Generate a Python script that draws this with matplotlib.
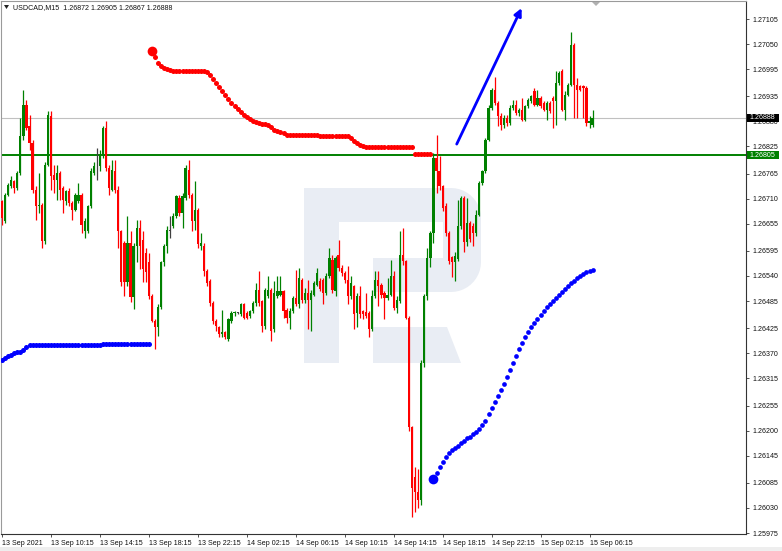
import matplotlib
matplotlib.use("Agg")
import matplotlib.pyplot as plt
from matplotlib.patches import Rectangle, Polygon
from matplotlib.transforms import Affine2D
import numpy as np

# ---------------- data ----------------
symbol_header = "USDCAD,M15  1.26872 1.26905 1.26867 1.26888"
time_labels = ["13 Sep 2021", "13 Sep 10:15", "13 Sep 14:15", "13 Sep 18:15",
               "13 Sep 22:15", "14 Sep 02:15", "14 Sep 06:15", "14 Sep 10:15",
               "14 Sep 14:15", "14 Sep 18:15", "14 Sep 22:15", "15 Sep 02:15",
               "15 Sep 06:15"]
label_step = 16

opens = [1.26705, 1.26661, 1.26719, 1.26737, 1.26748, 1.26734, 1.26767, 1.26847, 1.26916, 1.26869,
         1.26832, 1.26730, 1.26694, 1.26697, 1.26617, 1.26785, 1.26891, 1.26763, 1.26752, 1.26767,
         1.26734, 1.26705, 1.26727, 1.26701, 1.26686, 1.26705, 1.26719, 1.26639, 1.26639, 1.26694,
         1.26767, 1.26781, 1.26781, 1.26807, 1.26865, 1.26778, 1.26730, 1.26770, 1.26730, 1.26639,
         1.26613, 1.26526, 1.26613, 1.26493, 1.26606, 1.26646, 1.26620, 1.26591, 1.26570, 1.26497,
         1.26442, 1.26427, 1.26471, 1.26570, 1.26606, 1.26639, 1.26650, 1.26672, 1.26712, 1.26679,
         1.26712, 1.26774, 1.26719, 1.26661, 1.26686, 1.26606, 1.26605, 1.26551, 1.26529, 1.26481,
         1.26441, 1.26427, 1.26412, 1.26416, 1.26401, 1.26441, 1.26459, 1.26459, 1.26456, 1.26478,
         1.26459, 1.26452, 1.26463, 1.26481, 1.26510, 1.26485, 1.26430, 1.26496, 1.26510, 1.26423,
         1.26496, 1.26499, 1.26507, 1.26466, 1.26448, 1.26463, 1.26492, 1.26478, 1.26532, 1.26488,
         1.26503, 1.26488, 1.26499, 1.26521, 1.26529, 1.26532, 1.26503, 1.26540, 1.26576, 1.26507,
         1.26587, 1.26558, 1.26547, 1.26532, 1.26496, 1.26518, 1.26459, 1.26496, 1.26463, 1.26461,
         1.26459, 1.26423, 1.26496, 1.26532, 1.26521, 1.26503, 1.26492, 1.26499, 1.26540, 1.26470,
         1.26485, 1.26587, 1.26573, 1.26448, 1.26207, 1.26098, 1.26066, 1.26047, 1.26348, 1.26496,
         1.26580, 1.26635, 1.26800, 1.26770, 1.26738, 1.26694, 1.26635, 1.26581, 1.26570, 1.26577,
         1.26650, 1.26712, 1.26614, 1.26657, 1.26650, 1.26635, 1.26675, 1.26745, 1.26770, 1.26840,
         1.26909, 1.26949, 1.26920, 1.26891, 1.26873, 1.26887, 1.26876, 1.26909, 1.26917, 1.26899,
         1.26906, 1.26884, 1.26913, 1.26924, 1.26946, 1.26917, 1.26931, 1.26920, 1.26906, 1.26921,
         1.26931, 1.26924, 1.26964, 1.26990, 1.26906, 1.26939, 1.26961, 1.27048, 1.26961, 1.26957,
         1.26957, 1.26953, 1.26877, 1.26872]
highs = [1.26708, 1.26723, 1.26745, 1.26759, 1.26752, 1.26770, 1.26887, 1.26948, 1.26928, 1.26894,
         1.26840, 1.26737, 1.26767, 1.26701, 1.26790, 1.26902, 1.26902, 1.26785, 1.26785, 1.26770,
         1.26737, 1.26730, 1.26734, 1.26705, 1.26723, 1.26745, 1.26723, 1.26668, 1.26697, 1.26778,
         1.26790, 1.26821, 1.26818, 1.26869, 1.26880, 1.26785, 1.26796, 1.26796, 1.26737, 1.26642,
         1.26617, 1.26672, 1.26639, 1.26613, 1.26664, 1.26664, 1.26639, 1.26602, 1.26591, 1.26500,
         1.26445, 1.26478, 1.26573, 1.26610, 1.26650, 1.26672, 1.26679, 1.26719, 1.26719, 1.26723,
         1.26785, 1.26796, 1.26723, 1.26748, 1.26690, 1.26635, 1.26613, 1.26555, 1.26533, 1.26485,
         1.26445, 1.26430, 1.26466, 1.26419, 1.26448, 1.26463, 1.26463, 1.26461, 1.26481, 1.26481,
         1.26463, 1.26466, 1.26485, 1.26525, 1.26551, 1.26488, 1.26514, 1.26540, 1.26513, 1.26529,
         1.26540, 1.26540, 1.26510, 1.26470, 1.26470, 1.26496, 1.26554, 1.26558, 1.26536, 1.26514,
         1.26532, 1.26510, 1.26529, 1.26558, 1.26536, 1.26536, 1.26547, 1.26602, 1.26587, 1.26583,
         1.26620, 1.26565, 1.26551, 1.26562, 1.26540, 1.26521, 1.26503, 1.26518, 1.26466, 1.26503,
         1.26463, 1.26510, 1.26551, 1.26551, 1.26525, 1.26507, 1.26536, 1.26576, 1.26551, 1.26496,
         1.26638, 1.26645, 1.26576, 1.26452, 1.26211, 1.26120, 1.26116, 1.26356, 1.26500, 1.26602,
         1.26640, 1.26810, 1.26850, 1.26803, 1.26741, 1.26700, 1.26640, 1.26584, 1.26592, 1.26708,
         1.26716, 1.26716, 1.26712, 1.26661, 1.26657, 1.26686, 1.26748, 1.26774, 1.26843, 1.26916,
         1.26953, 1.26978, 1.26924, 1.26898, 1.26894, 1.26894, 1.26916, 1.26928, 1.26928, 1.26910,
         1.26931, 1.26917, 1.26931, 1.26939, 1.26953, 1.26950, 1.26935, 1.26924, 1.26924, 1.26924,
         1.26935, 1.26990, 1.26990, 1.26994, 1.26946, 1.26964, 1.27077, 1.27052, 1.26975, 1.26961,
         1.26960, 1.26957, 1.26891, 1.26905]
lows = [1.26653, 1.26657, 1.26716, 1.26734, 1.26723, 1.26730, 1.26763, 1.26840, 1.26860, 1.26818,
        1.26723, 1.26664, 1.26679, 1.26602, 1.26610, 1.26781, 1.26730, 1.26723, 1.26708, 1.26708,
        1.26679, 1.26697, 1.26694, 1.26664, 1.26683, 1.26701, 1.26635, 1.26624, 1.26635, 1.26690,
        1.26763, 1.26752, 1.26770, 1.26800, 1.26770, 1.26719, 1.26727, 1.26723, 1.26602, 1.26518,
        1.26497, 1.26518, 1.26482, 1.26467, 1.26570, 1.26555, 1.26526, 1.26526, 1.26490, 1.26438,
        1.26380, 1.26409, 1.26467, 1.26562, 1.26591, 1.26624, 1.26646, 1.26668, 1.26672, 1.26646,
        1.26708, 1.26712, 1.26639, 1.26642, 1.26602, 1.26598, 1.26540, 1.26518, 1.26474, 1.26434,
        1.26419, 1.26405, 1.26405, 1.26401, 1.26398, 1.26437, 1.26452, 1.26456, 1.26452, 1.26445,
        1.26445, 1.26448, 1.26459, 1.26474, 1.26474, 1.26416, 1.26423, 1.26492, 1.26397, 1.26416,
        1.26492, 1.26496, 1.26448, 1.26437, 1.26423, 1.26459, 1.26474, 1.26470, 1.26481, 1.26481,
        1.26423, 1.26419, 1.26496, 1.26518, 1.26507, 1.26478, 1.26499, 1.26536, 1.26503, 1.26496,
        1.26551, 1.26540, 1.26525, 1.26478, 1.26490, 1.26423, 1.26427, 1.26448, 1.26445, 1.26448,
        1.26405, 1.26420, 1.26492, 1.26474, 1.26492, 1.26445, 1.26488, 1.26496, 1.26466, 1.26459,
        1.26481, 1.26565, 1.26445, 1.26200, 1.26010, 1.26021, 1.26029, 1.26036, 1.26339, 1.26488,
        1.26559, 1.26613, 1.26723, 1.26730, 1.26683, 1.26628, 1.26566, 1.26537, 1.26530, 1.26573,
        1.26643, 1.26592, 1.26606, 1.26614, 1.26606, 1.26628, 1.26672, 1.26741, 1.26767, 1.26836,
        1.26905, 1.26916, 1.26869, 1.26862, 1.26865, 1.26869, 1.26873, 1.26906, 1.26895, 1.26891,
        1.26880, 1.26880, 1.26910, 1.26921, 1.26913, 1.26913, 1.26910, 1.26902, 1.26884, 1.26898,
        1.26866, 1.26873, 1.26960, 1.26902, 1.26884, 1.26935, 1.26957, 1.26888, 1.26888, 1.26946,
        1.26888, 1.26870, 1.26866, 1.26867]
closes = [1.26668, 1.26719, 1.26739, 1.26752, 1.26734, 1.26767, 1.26847, 1.26916, 1.26865, 1.26832,
          1.26730, 1.26694, 1.26697, 1.26617, 1.26785, 1.26894, 1.26759, 1.26752, 1.26767, 1.26730,
          1.26708, 1.26727, 1.26701, 1.26686, 1.26719, 1.26719, 1.26653, 1.26661, 1.26694, 1.26770,
          1.26781, 1.26781, 1.26807, 1.26865, 1.26778, 1.26734, 1.26774, 1.26730, 1.26639, 1.26526,
          1.26526, 1.26613, 1.26493, 1.26606, 1.26646, 1.26606, 1.26555, 1.26548, 1.26497, 1.26442,
          1.26427, 1.26471, 1.26570, 1.26606, 1.26642, 1.26639, 1.26672, 1.26716, 1.26679, 1.26716,
          1.26778, 1.26719, 1.26661, 1.26686, 1.26610, 1.26613, 1.26551, 1.26525, 1.26481, 1.26441,
          1.26430, 1.26412, 1.26416, 1.26405, 1.26445, 1.26459, 1.26461, 1.26459, 1.26478, 1.26448,
          1.26448, 1.26463, 1.26481, 1.26510, 1.26481, 1.26430, 1.26510, 1.26510, 1.26419, 1.26503,
          1.26507, 1.26507, 1.26463, 1.26448, 1.26463, 1.26492, 1.26478, 1.26536, 1.26488, 1.26503,
          1.26488, 1.26503, 1.26525, 1.26547, 1.26511, 1.26503, 1.26540, 1.26580, 1.26510, 1.26580,
          1.26558, 1.26547, 1.26532, 1.26496, 1.26525, 1.26456, 1.26496, 1.26456, 1.26456, 1.26452,
          1.26423, 1.26496, 1.26532, 1.26518, 1.26499, 1.26492, 1.26499, 1.26540, 1.26470, 1.26488,
          1.26587, 1.26573, 1.26448, 1.26207, 1.26073, 1.26066, 1.26047, 1.26348, 1.26496, 1.26580,
          1.26635, 1.26800, 1.26770, 1.26738, 1.26690, 1.26635, 1.26573, 1.26570, 1.26584, 1.26650,
          1.26712, 1.26614, 1.26657, 1.26621, 1.26635, 1.26675, 1.26745, 1.26770, 1.26840, 1.26909,
          1.26949, 1.26920, 1.26891, 1.26873, 1.26887, 1.26876, 1.26909, 1.26917, 1.26899, 1.26906,
          1.26884, 1.26913, 1.26928, 1.26935, 1.26917, 1.26931, 1.26913, 1.26906, 1.26921, 1.26902,
          1.26924, 1.26964, 1.26986, 1.26906, 1.26939, 1.26961, 1.27048, 1.26961, 1.26950, 1.26950,
          1.26953, 1.26877, 1.26880, 1.26888]

# trailing-stop indicator (red = above price, blue = below price)
red_stop_start = 49
red_stop = [1.27035, 1.27021, 1.27008, 1.27002, 1.26997, 1.26994, 1.26992,
            1.26991, 1.26991, 1.26991, 1.26991, 1.26991, 1.26991, 1.26991, 1.26991, 1.26991, 1.26991, 1.26991,
            1.26988, 1.26982, 1.26973, 1.26964, 1.26956, 1.26947, 1.26938, 1.26929, 1.26920, 1.26914,
            1.26907, 1.26901, 1.26894, 1.26890, 1.26885, 1.26881, 1.26879, 1.26876, 1.26875, 1.26874,
            1.26872, 1.26868, 1.26861, 1.26859, 1.26857, 1.26854, 1.26851,
            1.26850, 1.26850, 1.26850, 1.26850, 1.26850, 1.26850, 1.26850, 1.26850, 1.26850, 1.26850,
            1.26847, 1.26847, 1.26847, 1.26847, 1.26847, 1.26847, 1.26847, 1.26847, 1.26847, 1.26847,
            1.26843, 1.26837, 1.26832, 1.26828, 1.26826, 1.26824,
            1.26823, 1.26823, 1.26823, 1.26823, 1.26823, 1.26823, 1.26823, 1.26823, 1.26823, 1.26823,
            1.26823, 1.26823, 1.26823, 1.26823, 1.26823,
            1.26808, 1.26808, 1.26808, 1.26808, 1.26808, 1.26808]
blue_stop_left_start = 0
blue_stop_left = [1.26355, 1.26360, 1.26364, 1.26366, 1.26371, 1.26373, 1.26374, 1.26377, 1.26385,
                  1.26388, 1.26388, 1.26388, 1.26388, 1.26388, 1.26388, 1.26388, 1.26388, 1.26388,
                  1.26388, 1.26388, 1.26388, 1.26388, 1.26388, 1.26388, 1.26388, 1.26388, 1.26388,
                  1.26388, 1.26388, 1.26388, 1.26388, 1.26388, 1.26388,
                  1.26391, 1.26391, 1.26391, 1.26391, 1.26391, 1.26391, 1.26391, 1.26391,
                  1.26391, 1.26391, 1.26391, 1.26391, 1.26391, 1.26391, 1.26391, 1.26391]
blue_stop_right_start = 141
blue_stop_right = [1.26093, 1.26107, 1.26120, 1.26130, 1.26142, 1.26150, 1.26157, 1.26162, 1.26167,
                   1.26172, 1.26178, 1.26183, 1.26187, 1.26192, 1.26197, 1.26203, 1.26212, 1.26221,
                   1.26237, 1.26250, 1.26263, 1.26276, 1.26290, 1.26303, 1.26318, 1.26334, 1.26349,
                   1.26364, 1.26380, 1.26393, 1.26406, 1.26417, 1.26428, 1.26437, 1.26446, 1.26454,
                   1.26463, 1.26472, 1.26479, 1.26485, 1.26492, 1.26498, 1.26505, 1.26512, 1.26518,
                   1.26525, 1.26529, 1.26536, 1.26540, 1.26545, 1.26549, 1.26552, 1.26554]

bid_price = 1.26888
level_price = 1.26805
arrow_from = (148.6, 1.26830)
arrow_to = (169.8, 1.27129)
ytick_values = [1.27105, 1.27050, 1.26995, 1.26935, 1.26880, 1.26825, 1.26765, 1.26710,
                1.26655, 1.26595, 1.26540, 1.26485, 1.26425, 1.26370, 1.26315, 1.26255,
                1.26200, 1.26145, 1.26085, 1.26030, 1.25975]

# ---------------- figure ----------------
W, H = 782, 551
fig = plt.figure(figsize=(W / 100, H / 100), dpi=100)
fig.patch.set_facecolor("white")
FONT = ["Liberation Sans", "DejaVu Sans"]
FS = 5.1

ax = fig.add_axes([1 / W, (H - 534) / H, 745 / W, 533 / H])
ax.set_facecolor("white")

bar_px = 3.06
kpx = 0.0113 / 514.0
ax.set_xlim((1 - 2) / bar_px, (746 - 2) / bar_px)
ax.set_ylim(1.27105 - (534 - 19) * kpx, 1.27105 + 18 * kpx)

# pixel transform (image pixel coords, origin top-left)
px = Affine2D().scale(1 / W, -1 / H).translate(0, 1) + fig.transFigure

# watermark logo
logo_col = "#e9edf4"
ax.add_patch(Rectangle((304, 188), 35, 175, transform=px, color=logo_col, zorder=0.5, lw=0))
t = np.linspace(0, np.pi / 2, 12)
r = 30
bowl = [(339, 188), (451, 188)]
bowl += [(451 + r * np.sin(a), 218 - r * np.cos(a)) for a in t]
bowl += [(481, 262)]
bowl += [(451 + r * np.cos(a), 262 + r * np.sin(a)) for a in t]
bowl += [(373, 292), (373, 258), (443, 258), (443, 222), (339, 222)]
ax.add_patch(Polygon(bowl, closed=True, transform=px, color=logo_col, zorder=0.5, lw=0))
ax.add_patch(Polygon([(373, 327), (447, 327), (461, 363), (373, 363)], closed=True,
                     transform=px, color=logo_col, zorder=0.5, lw=0))

# horizontal lines
ax.axhline(bid_price, color="#c0c0c0", lw=0.8, zorder=1)
ax.axhline(level_price, color="#008000", lw=1.4, zorder=1)

# candles
n = len(opens)
idx = np.arange(n)
o = np.array(opens); h = np.array(highs); l = np.array(lows); c = np.array(closes)
up_col, dn_col, dj_col = "#008000", "#ff0000", "#404040"
cols = np.where(c > o, up_col, np.where(c < o, dn_col, dj_col))
ax.vlines(idx, l, h, colors=cols, lw=0.9, zorder=2)
bottoms = np.minimum(o, c)
heights = np.maximum(np.abs(c - o), 0.000012)
ax.bar(idx, heights, bottom=bottoms, width=0.72, color=cols, lw=0, zorder=3)

# indicator dots
rx = np.arange(red_stop_start, red_stop_start + len(red_stop))
ax.plot(rx[1:], red_stop[1:], ls="none", marker="o", ms=3.6, color="#ff0000", mew=0, zorder=4)
ax.plot(rx[:1], red_stop[:1], ls="none", marker="o", ms=7, color="#ff0000", mew=0, zorder=4)
bx1 = np.arange(blue_stop_left_start, blue_stop_left_start + len(blue_stop_left))
ax.plot(bx1, blue_stop_left, ls="none", marker="o", ms=3.6, color="#0000ff", mew=0, zorder=4)
bx2 = np.arange(blue_stop_right_start, blue_stop_right_start + len(blue_stop_right))
ax.plot(bx2[1:], blue_stop_right[1:], ls="none", marker="o", ms=3.4, color="#0000ff", mew=0, zorder=4)
ax.plot(bx2[:1], blue_stop_right[:1], ls="none", marker="o", ms=7, color="#0000ff", mew=0, zorder=4)

# drawn arrow
ax.annotate("", xy=arrow_to, xytext=arrow_from,
            arrowprops=dict(arrowstyle="-|>", color="#0000ff", lw=2.0,
                            mutation_scale=11, shrinkA=0, shrinkB=0), zorder=5)

# axes styling
for s in ["left", "top"]:
    ax.spines[s].set_color("#9a9a9a")
    ax.spines[s].set_linewidth(0.8)
for s in ["right", "bottom"]:
    ax.spines[s].set_color("#333333")
    ax.spines[s].set_linewidth(0.8)

ax.yaxis.tick_right()
ax.set_yticks(ytick_values)
ax.set_yticklabels([f"{v:.5f}" for v in ytick_values], fontsize=FS, family=FONT, color="#111111")
ax.tick_params(axis="y", length=2.5, width=0.6, pad=2.5, colors="#333333", labelcolor="#111111")
ax.set_xticks(np.arange(0, label_step * len(time_labels), label_step))
ax.set_xticklabels(time_labels, fontsize=FS, family=FONT, color="#111111", ha="left")
ax.tick_params(axis="x", length=2.5, width=0.6, pad=1.5, colors="#333333", labelcolor="#111111")

# header
fig.add_artist(Polygon([(4, 5), (9, 5), (6.5, 9)], closed=True, transform=px, color="#222222", lw=0))
fig.text(13 / W, 1 - 7.5 / H, symbol_header, fontsize=FS, family=FONT, color="#111111",
         ha="left", va="center")

# shift marker
fig.add_artist(Polygon([(592, 2), (600, 2), (596, 6)], closed=True, transform=px,
                       color="#b0b0b0", lw=0))

# price tags on the scale
def y_px(price):
    return 19 + (1.27105 - price) / kpx

for price, bg in [(level_price, "#008000"), (bid_price, "#000000")]:
    yc = y_px(price)
    fig.add_artist(Rectangle((747, yc - 4), 32, 8, transform=px, color=bg, lw=0, zorder=10))
    fig.text(750 / W, 1 - yc / H, f"{price:.5f}", fontsize=FS, family=FONT, color="white",
             ha="left", va="center", zorder=11)

# bottom strip
fig.add_artist(Rectangle((0, 547), W, 4, transform=px, color="#eeeeee", lw=0, zorder=0))

fig.savefig("out.png", dpi=100)
